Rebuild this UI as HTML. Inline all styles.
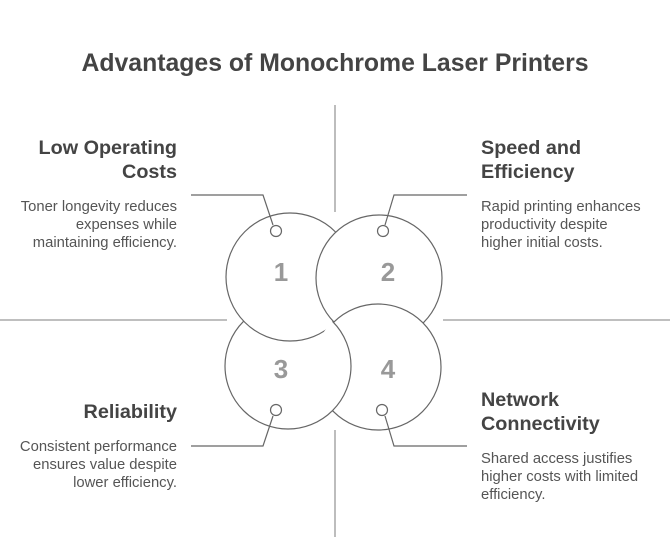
<!DOCTYPE html>
<html><head><style>
body{margin:0;width:670px;height:547px;background:#fff;overflow:hidden;font-family:"Liberation Sans",Arial,sans-serif}
</style></head><body>
<svg width="670" height="547" xmlns="http://www.w3.org/2000/svg" font-family="Liberation Sans, Arial, sans-serif">
<defs><clipPath id="c4"><circle cx="378" cy="367" r="64.5"/></clipPath></defs>
<text x="335" y="71" text-anchor="middle" font-size="24.8" font-weight="bold" fill="#444">Advantages of Monochrome Laser Printers</text>
<g stroke="#999" stroke-width="1.3" fill="none">
<line x1="335" y1="105" x2="335" y2="212"/>
<line x1="335" y1="430" x2="335" y2="537"/>
<line x1="0" y1="320" x2="227" y2="320"/>
<line x1="443" y1="320" x2="670" y2="320"/>
</g>
<g stroke="#666" stroke-width="1.2" fill="#fff">
<circle cx="288" cy="366" r="63"/>
<circle cx="290" cy="277" r="64"/>
<circle cx="379" cy="278" r="63"/>
<circle cx="378" cy="367" r="63"/>
<circle cx="288" cy="366" r="63" clip-path="url(#c4)"/>
</g>
<g font-size="26" font-weight="bold" fill="#999" text-anchor="middle">
<text x="281" y="281">1</text><text x="388" y="281">2</text>
<text x="281" y="378">3</text><text x="388" y="378">4</text>
</g>
<g stroke="#666" stroke-width="1.2" fill="none">
<polyline points="191,195 263,195 273,225"/>
<polyline points="467,195 394,195 385,225"/>
<polyline points="191,446 263,446 273,416"/>
<polyline points="467,446 394,446 385,416"/>
<circle cx="276" cy="231" r="5.5" fill="#fff"/>
<circle cx="383" cy="231" r="5.5" fill="#fff"/>
<circle cx="276" cy="410" r="5.5" fill="#fff"/>
<circle cx="382" cy="410" r="5.5" fill="#fff"/>
</g>
<g font-size="19.8" font-weight="bold" fill="#444">
<text x="177" y="154" text-anchor="end">Low Operating</text>
<text x="177" y="178" text-anchor="end">Costs</text>
<text x="481" y="154">Speed and</text>
<text x="481" y="178">Efficiency</text>
<text x="177" y="418" text-anchor="end">Reliability</text>
<text x="481" y="406">Network</text>
<text x="481" y="430">Connectivity</text>
</g>
<g font-size="14.8" fill="#555">
<text x="177" y="211" text-anchor="end">Toner longevity reduces</text>
<text x="177" y="229" text-anchor="end">expenses while</text>
<text x="177" y="247" text-anchor="end">maintaining efficiency.</text>
<text x="481" y="211">Rapid printing enhances</text>
<text x="481" y="229">productivity despite</text>
<text x="481" y="247">higher initial costs.</text>
<text x="177" y="451" text-anchor="end">Consistent performance</text>
<text x="177" y="469" text-anchor="end">ensures value despite</text>
<text x="177" y="487" text-anchor="end">lower efficiency.</text>
<text x="481" y="463">Shared access justifies</text>
<text x="481" y="481">higher costs with limited</text>
<text x="481" y="499">efficiency.</text>
</g>
</svg>
</body></html>
